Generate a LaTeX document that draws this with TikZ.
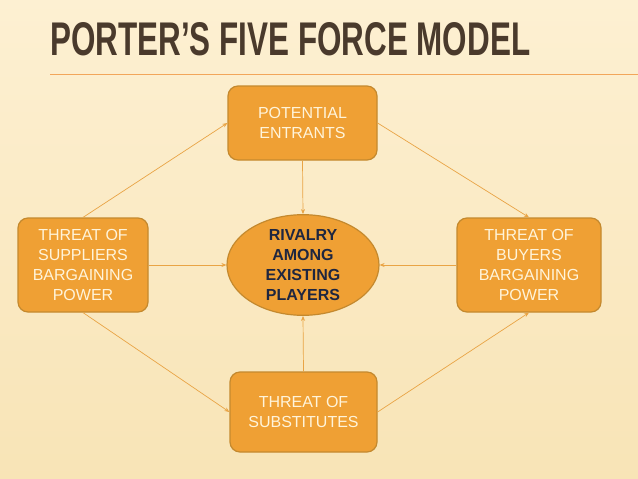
\documentclass[tikz,border=0pt]{standalone}
\usepackage{fontspec}
\setmainfont{Liberation Sans}
\usetikzlibrary{positioning,shapes.geometric,arrows.meta}

\definecolor{boxfill}{HTML}{EFA034}
\definecolor{boxline}{HTML}{C4892E}
\definecolor{boxtext}{HTML}{FFF4DA}
\definecolor{linkcol}{HTML}{E9A445}
\definecolor{titlecol}{HTML}{4A3A2C}
\definecolor{rivalcol}{HTML}{1E2640}
\definecolor{bgtop}{HTML}{FDF0D2}
\definecolor{bgbot}{HTML}{F8E4B6}

\begin{document}
\begin{tikzpicture}[x=1pt,y=-1pt,
	force/.style={draw=boxline,line width=1.2pt,fill=boxfill,rounded corners=10pt,
		text=boxtext,font=\fontsize{16}{20}\selectfont,align=center,inner sep=0pt},
	link/.style={draw=linkcol,line width=0.7pt,-{Stealth[length=5pt,width=4pt]}}]
	% background and title
	\shade[top color=bgtop,bottom color=bgbot] (0,0) rectangle (638,479);
	\useasboundingbox (0,0) rectangle (638,479);
	\node (title) [anchor=base west,text=titlecol,inner sep=0pt] at (50,55)
		{\resizebox{480pt}{33pt}{\bfseries PORTER’S FIVE FORCE MODEL}};
	\draw [draw=orange!70!brown!70,line width=0.8pt] (50,74) -- (638,74);

	% the five forces
	\node (entr) [force,minimum width=149pt,minimum height=74pt] at (302.5,123) {POTENTIAL\\ENTRANTS};
	\node (supp) [force,minimum width=130pt,minimum height=94pt] at (83,265) {THREAT OF\\SUPPLIERS\\BARGAINING\\POWER};
	\node (buy) [force,minimum width=144pt,minimum height=94pt] at (529,265) {THREAT OF\\BUYERS\\BARGAINING\\POWER};
	\node (subst) [force,minimum width=147pt,minimum height=80pt] at (303.5,412) {THREAT OF\\SUBSTITUTES};
	\node (rival) [ellipse,draw=boxline,line width=1.2pt,fill=boxfill,minimum width=152pt,minimum height=96pt,
		inner sep=0pt,align=center,text=rivalcol,font=\fontsize{16}{20}\selectfont\bfseries] at (303,265)
		{RIVALRY\\AMONG\\EXISTING\\PLAYERS};

	% outer links
	\draw [link] (supp.north) -- (entr.west);
	\draw [link] (entr.east) -- (buy.north);
	\draw [link] (supp.south) -- (subst.west);
	\draw [link] (subst.east) -- (buy.south);

	% links to the centre
	\draw [link] (entr.south) -- (rival.north);
	\draw [link] (supp.east) -- (rival.west);
	\draw [link] (buy.west) -- (rival.east);
	\draw [link] (subst.north) -- (rival.south);

\end{tikzpicture}
\end{document}
